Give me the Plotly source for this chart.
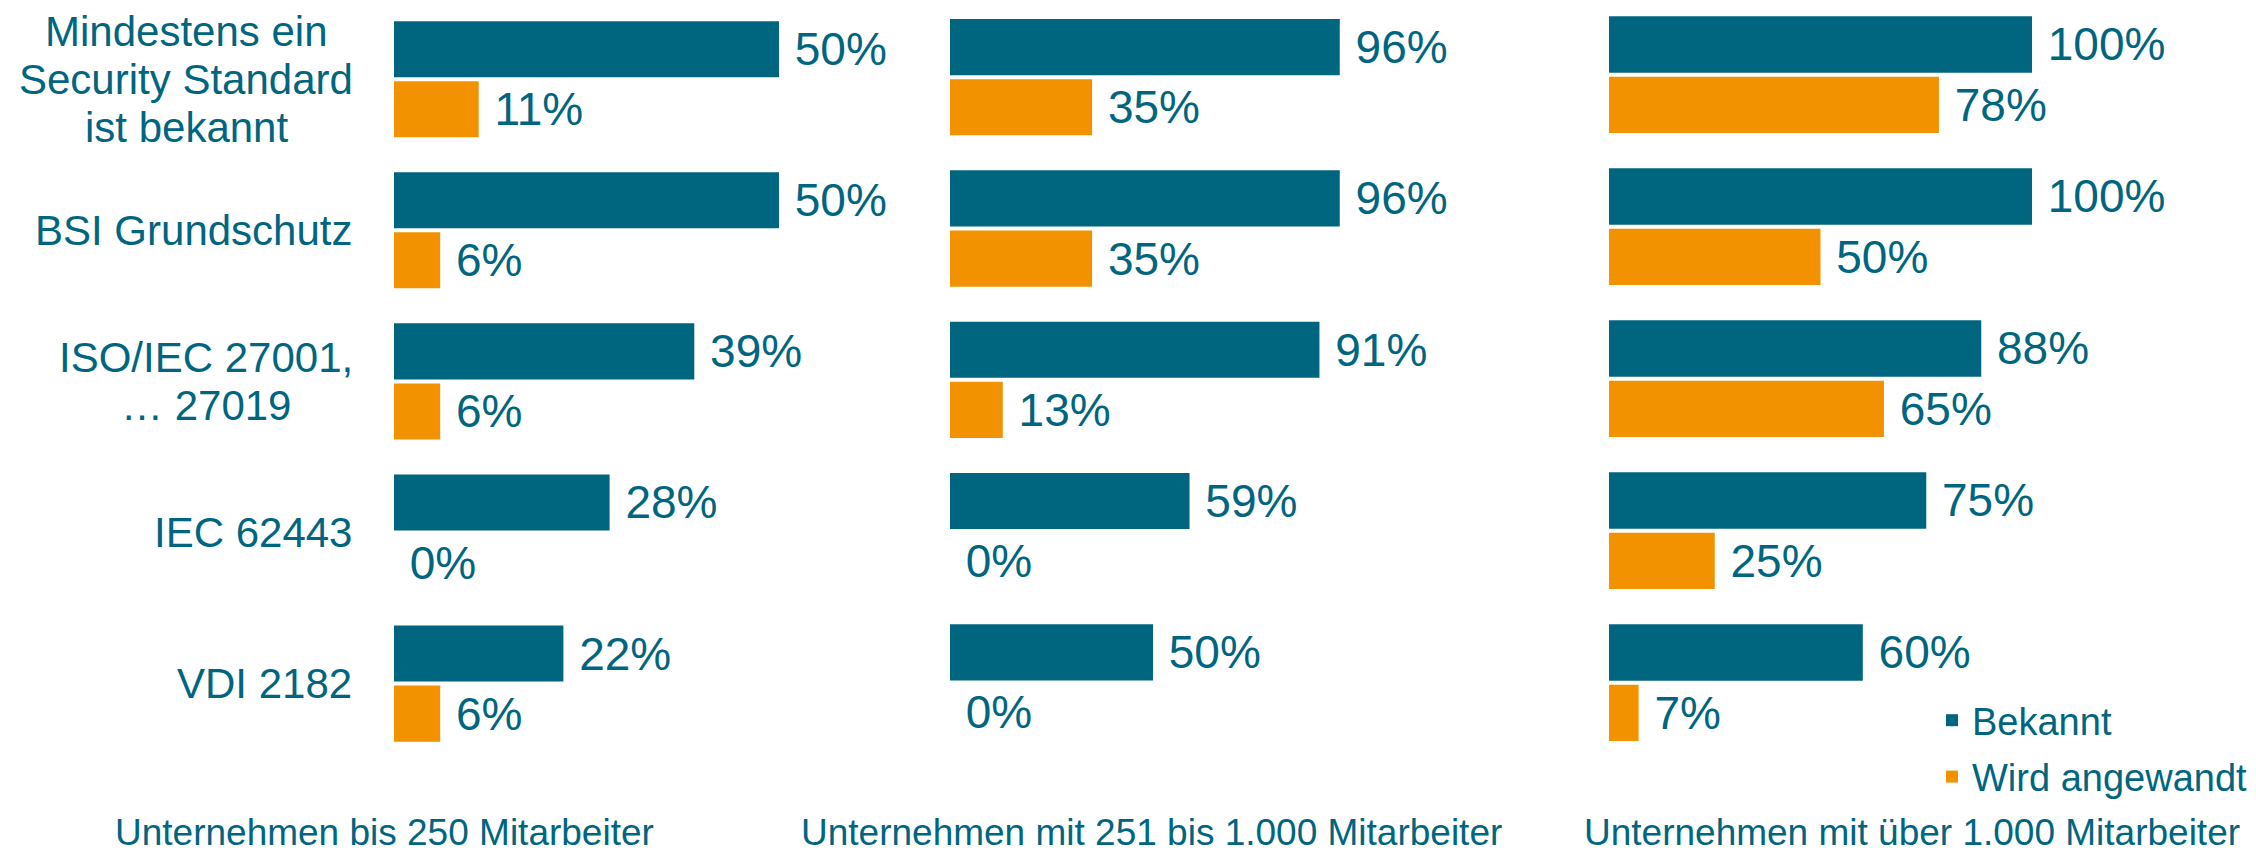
import plotly.graph_objects as go

# ---------------- data ----------------
categories = [
    "Mindestens ein Security Standard ist bekannt",
    "BSI Grundschutz",
    "ISO/IEC 27001, … 27019",
    "IEC 62443",
    "VDI 2182",
]
category_labels = [
    ["Mindestens ein", "Security Standard", "ist bekannt"],
    ["BSI Grundschutz"],
    ["ISO/IEC 27001,", "… 27019"],
    ["IEC 62443"],
    ["VDI 2182"],
]
group_titles = [
    "Unternehmen bis 250 Mitarbeiter",
    "Unternehmen mit 251 bis 1.000 Mitarbeiter",
    "Unternehmen mit über 1.000 Mitarbeiter",
]
series_names = ["Bekannt", "Wird angewandt"]

bekannt_small = [50, 50, 39, 28, 22]
angewandt_small = [11, 6, 6, 0, 6]
bekannt_mid = [96, 96, 91, 59, 50]
angewandt_mid = [35, 35, 13, 0, 0]
bekannt_large = [100, 100, 88, 75, 60]
angewandt_large = [78, 50, 65, 25, 7]

# ---------------- style ----------------
W, H = 2256, 852
BLUE = "#00657F"
ORANGE = "#F39200"
FONT = "Liberation Sans, Arial, sans-serif"

# label placement: (x pixel, anchor) per category label block
label_pos = [(186, "center"), (354, "right"), (206, "center"), (354, "right"), (354, "right")]

# panel geometry (pixels)
panels = [
    dict(start=394, ppp=7.70, rmax=70, c0=79.2, pitch=151.1, title_x=384),
    dict(start=950, ppp=4.06, rmax=150, c0=77.2, pitch=151.3, title_x=1151),
    dict(start=1609, ppp=4.23, rmax=150, c0=74.7, pitch=152.0, title_x=1912),
]
panel_data = [
    (bekannt_small, angewandt_small),
    (bekannt_mid, angewandt_mid),
    (bekannt_large, angewandt_large),
]

fig = go.Figure()

for i, (p, (bek, ang)) in enumerate(zip(panels, panel_data)):
    sfx = "" if i == 0 else str(i + 1)
    for name, vals, col in zip(series_names, (bek, ang), (BLUE, ORANGE)):
        fig.add_trace(go.Bar(
            x=vals, y=categories, orientation="h", name=name,
            marker=dict(color=col, line=dict(width=0)),
            texttemplate="\u00a0%{x}%", textposition="outside",
            textfont=dict(size=46, color=BLUE, family=FONT),
            outsidetextfont=dict(size=46, color=BLUE, family=FONT),
            constraintext="none", cliponaxis=False,
            showlegend=(i == 0), legendgroup=name,
            xaxis="x" + sfx, yaxis="y" + sfx, hoverinfo="skip",
        ))
    x0 = p["start"] / W
    x1 = (p["start"] + p["ppp"] * p["rmax"]) / W
    rt = -p["c0"] / p["pitch"]
    rb = rt + H / p["pitch"]
    fig.layout["xaxis" + sfx] = dict(
        domain=[x0, x1], range=[0, p["rmax"]], anchor="y" + sfx,
        showgrid=False, zeroline=False, showline=False, showticklabels=False, ticks="",
    )
    fig.layout["yaxis" + sfx] = dict(
        domain=[0, 1], range=[rb, rt], anchor="x" + sfx, type="category",
        categoryorder="array", categoryarray=categories,
        showgrid=False, zeroline=False, showline=False, showticklabels=False, ticks="",
    )

LINE_STEP = 48  # px between label lines
annotations = []
for cat, lines, (lx, anchor) in zip(categories, category_labels, label_pos):
    n = len(lines)
    for k, line in enumerate(lines):
        annotations.append(dict(
            text=line, xref="paper", x=lx / W, xanchor=anchor, align="center",
            yref="y", y=cat, yanchor="middle", showarrow=False,
            yshift=((n - 1) / 2 - k) * LINE_STEP,
            font=dict(size=42, color=BLUE, family=FONT),
        ))

for p, t in zip(panels, group_titles):
    annotations.append(dict(
        text=t, xref="paper", x=p["title_x"] / W, xanchor="center",
        yref="paper", y=1 - 832 / H, yanchor="middle", showarrow=False,
        font=dict(size=37, color=BLUE, family=FONT),
    ))

fig.update_layout(
    width=W, height=H,
    margin=dict(l=0, r=0, t=0, b=0, autoexpand=False),
    paper_bgcolor="white", plot_bgcolor="white",
    barmode="group", bargap=0.205, bargroupgap=0.067,
    font=dict(family=FONT, color=BLUE),
    annotations=annotations,
    legend=dict(
        x=1932 / W, xanchor="left", y=1 - 689 / H, yanchor="top",
        font=dict(size=38, color=BLUE, family=FONT),
        bgcolor="rgba(0,0,0,0)", tracegroupgap=4, traceorder="grouped",
    ),
)

fig.write_html(
    "out.html",
    config={"displayModeBar": False},
    post_script="document.body.style.margin='0';",
)
